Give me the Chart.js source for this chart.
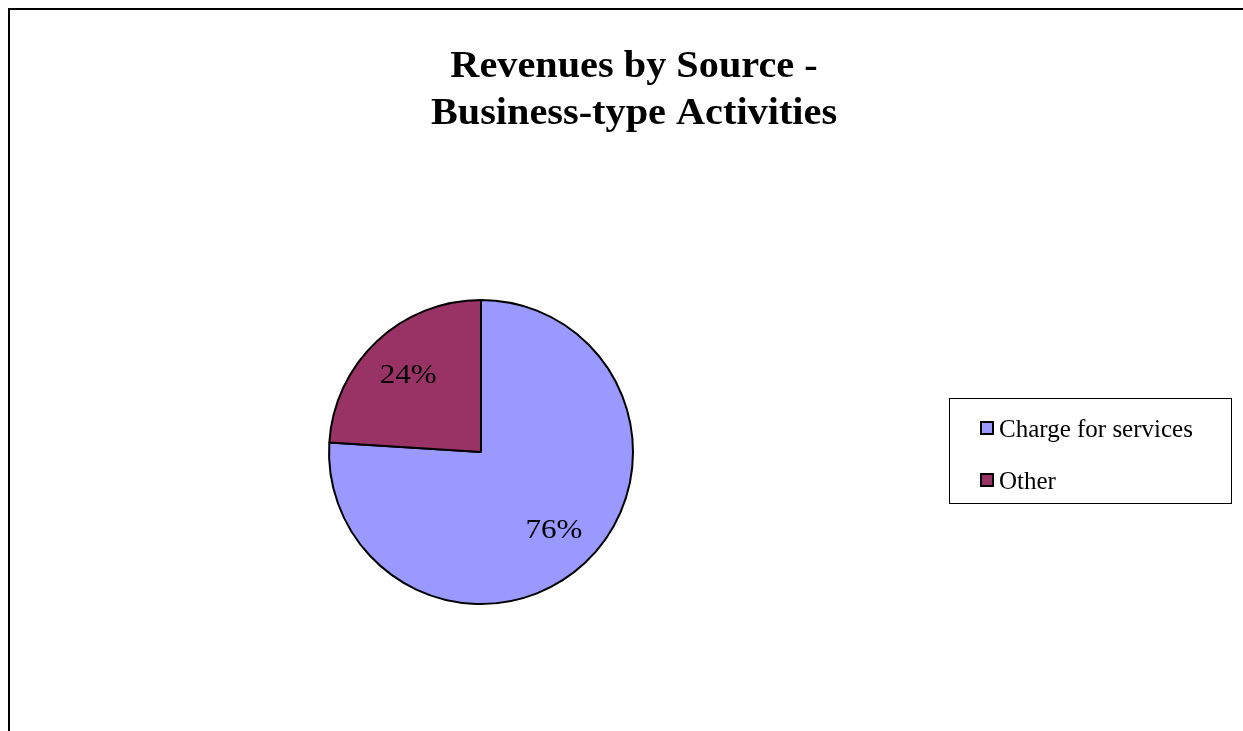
<!DOCTYPE html>
<html>
<head>
<meta charset="utf-8">
<script src="https://cdn.jsdelivr.net/npm/chart.js@4/dist/chart.umd.min.js"></script>
<style>
  html, body { margin: 0; padding: 0; background: #fff; }
  #wrap { position: relative; width: 1243px; height: 731px; }
</style>
</head>
<body>
<div id="wrap"><canvas id="chart" width="1243" height="731"></canvas></div>
<script>
const titleLines = ["Revenues by Source -", "Business-type Activities"];
const categories = ["Charge for services", "Other"];
const shares = [76, 24];
const sliceColors = ["#9999ff", "#993366"];

const SERIF = "'Liberation Serif', 'Times New Roman', serif";

// text drawn a bit wider than the font, like the old office export
function wideText(c, txt, x, y, sx) {
  c.save();
  c.translate(x, y);
  c.scale(sx, 1);
  c.fillText(txt, 0, 0);
  c.restore();
}

// frame, title, legend box and the % labels are drawn here
const decor = {
  id: "decor",
  beforeDraw(chart) {
    const c = chart.ctx;
    c.save();
    c.strokeStyle = "#000";
    c.lineWidth = 2;
    c.beginPath();
    c.moveTo(9, 731);
    c.lineTo(9, 9);
    c.lineTo(1243, 9);
    c.stroke();
    c.restore();
  },
  afterDraw(chart) {
    const c = chart.ctx;
    c.save();
    c.fillStyle = "#000";
    c.textAlign = "center";
    c.textBaseline = "alphabetic";
    c.font = "bold 38px " + SERIF;
    wideText(c, titleLines[0], 634, 77, 1.06);
    wideText(c, titleLines[1], 634, 124, 1.06);

    // slice labels
    const meta = chart.getDatasetMeta(0);
    const total = shares.reduce((a, b) => a + b, 0);
    c.font = "27px " + SERIF;
    c.textBaseline = "middle";
    meta.data.forEach((arc, i) => {
      const mid = (arc.startAngle + arc.endAngle) / 2;
      const r = arc.outerRadius * 0.7;
      const x = arc.x + Math.cos(mid) * r;
      const y = arc.y + Math.sin(mid) * r;
      c.fillStyle = "#000";
      wideText(c, Math.round(shares[i] / total * 100) + "%", x, y + 1, 1.15);
    });

    // legend
    c.strokeStyle = "#000";
    c.lineWidth = 1;
    c.strokeRect(949.5, 398.5, 282, 105);
    c.textAlign = "left";
    c.textBaseline = "alphabetic";
    c.font = "25px " + SERIF;
    const rowY = [428, 480];
    categories.forEach((name, i) => {
      c.fillStyle = sliceColors[i];
      c.fillRect(981, rowY[i] - 6, 12, 12);
      c.lineWidth = 2;
      c.strokeRect(981, rowY[i] - 6, 12, 12);
      c.fillStyle = "#000";
      c.fillText(name, 999, rowY[i] + 9);
    });
    c.restore();
  }
};

new Chart(document.getElementById("chart"), {
  type: "pie",
  data: {
    labels: categories,
    datasets: [{
      data: shares,
      backgroundColor: sliceColors,
      borderColor: "#000",
      borderWidth: 2,
    }],
  },
  options: {
    responsive: false,
    animation: false,
    layout: { padding: { left: 328, top: 299, right: 609, bottom: 126 } },
    plugins: {
      legend: { display: false },
      title: { display: false },
      tooltip: { enabled: false },
    },
  },
  plugins: [decor],
});
</script>
</body>
</html>
